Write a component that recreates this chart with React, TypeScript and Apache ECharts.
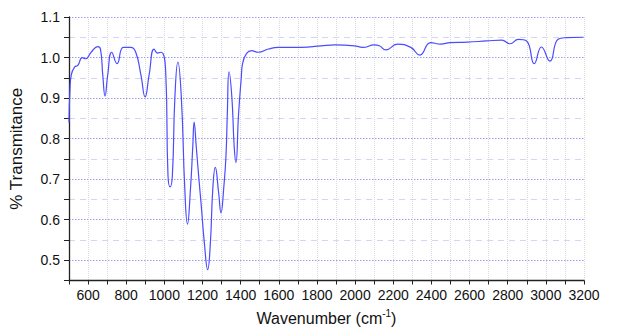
import React, { useEffect, useRef } from "react";
import * as echarts from "echarts";

const wavenumbers = [
  500, 505, 512, 530, 547, 569, 587, 616, 651, 665, 677, 689, 703, 724, 752, 785, 824, 850,
  877, 899, 920, 946, 964, 983, 1007, 1019, 1030, 1042, 1055, 1071, 1089, 1107, 1121, 1137,
  1149, 1156, 1167, 1181, 1193, 1210, 1227, 1241, 1254, 1267, 1284, 1297, 1311, 1323, 1330,
  1339, 1354, 1366, 1375, 1389, 1403, 1410, 1458, 1493, 1545, 1597, 1719, 1823, 1892, 1997,
  2040, 2101, 2127, 2161, 2222, 2292, 2339, 2396, 2448, 2500, 2587, 2691, 2769, 2812, 2856,
  2899, 2939, 2977, 3021, 3064, 3108, 3198,
];
const transmittance = [
  0.84, 0.92, 0.957, 0.977, 0.981, 1.0, 0.997, 1.013, 1.027, 1.021, 0.957, 0.905, 0.957, 1.013,
  0.985, 1.025, 1.025, 1.013, 0.957, 0.903, 0.957, 1.021, 1.011, 1.013, 0.965, 0.709, 0.681,
  0.709, 0.9, 0.989, 0.901, 0.677, 0.589, 0.677, 0.781, 0.841, 0.781, 0.701, 0.637, 0.541,
  0.477, 0.541, 0.677, 0.729, 0.669, 0.617, 0.677, 0.757, 0.861, 0.965, 0.901, 0.781, 0.741,
  0.861, 0.949, 0.985, 1.017, 1.013, 1.021, 1.025, 1.025, 1.029, 1.031, 1.029, 1.025, 1.031,
  1.029, 1.019, 1.033, 1.025, 1.006, 1.037, 1.033, 1.037, 1.038, 1.041, 1.043, 1.034, 1.045,
  1.041, 0.985, 1.026, 0.991, 1.045, 1.049, 1.05,
];

const X_MIN = 500;
const X_MAX = 3200;
const Y_MIN = 0.45;
const Y_MAX = 1.1;

export default function App() {
  const ref = useRef<HTMLDivElement>(null);
  useEffect(() => {
    document.body.style.margin = "0";
    if (!ref.current) return;
    const chart = echarts.init(ref.current, undefined, { renderer: "svg" });
    const font = "Liberation Sans, Arial, sans-serif";
    const data = wavenumbers.map((w, i) => [w, transmittance[i]]);
    chart.setOption({
      animation: false,
      backgroundColor: "#ffffff",
      grid: { left: 66, top: 17, right: 35, bottom: 44 },
      xAxis: [
        {
          type: "value",
          min: X_MIN,
          max: X_MAX,
          interval: 100,
          name: "Wavenumber (cm{sup|-1})",
          nameLocation: "middle",
          nameGap: 28,
          nameTextStyle: {
            fontFamily: font,
            fontSize: 16,
            color: "#111",
            rich: {
              sup: { fontFamily: font, fontSize: 10, color: "#111", padding: [0, 0, 9, 0] },
            },
          },
          axisLine: { show: true, lineStyle: { color: "#222", width: 1.3 } },
          axisTick: { show: true, length: 4, lineStyle: { color: "#222" } },
          axisLabel: {
            fontFamily: font,
            fontSize: 14,
            color: "#111",
            margin: 7,
            formatter: (v: number) => (Math.round(v) % 200 === 0 && v >= 600 ? String(Math.round(v)) : ""),
          },
          splitLine: {
            show: true,
            lineStyle: { color: "#dadade", type: "dotted", width: 1 },
          },
        },
      ],
      yAxis: [
        {
          type: "value",
          min: Y_MIN,
          max: Y_MAX,
          interval: 0.05,
          name: "% Transmitance",
          nameLocation: "middle",
          nameGap: 44,
          nameTextStyle: { fontFamily: font, fontSize: 17, color: "#111" },
          axisLine: { show: true, lineStyle: { color: "#222", width: 1.3 } },
          axisTick: { show: true, length: 5, lineStyle: { color: "#222" } },
          axisLabel: {
            fontFamily: font,
            fontSize: 14,
            color: "#111",
            margin: 9,
            formatter: (v: number) => {
              const r = Math.round(v * 100);
              return r % 10 === 0 ? (r / 100).toFixed(1) : "";
            },
          },
          splitLine: {
            show: true,
            lineStyle: { color: ["rgba(0,0,0,0)", "#9c9cf0"], type: [1.5, 1.5], width: 1 },
          },
        },
        {
          type: "value",
          min: Y_MIN,
          max: Y_MAX,
          interval: 0.05,
          position: "left",
          axisLine: { show: false },
          axisTick: { show: false },
          axisLabel: { show: false },
          splitLine: {
            show: true,
            lineStyle: { color: ["#d4d4f6", "rgba(0,0,0,0)"], type: [6, 5], width: 1 },
          },
        },
      ],
      series: [
        {
          type: "line",
          data,
          yAxisIndex: 0,
          showSymbol: false,
          smooth: 0.5,
          lineStyle: { color: "#4b4bff", width: 1.2 },
          z: 5,
        },
      ],
    });
    return () => chart.dispose();
  }, []);
  return <div ref={ref} style={{ width: 619, height: 331 }} />;
}
